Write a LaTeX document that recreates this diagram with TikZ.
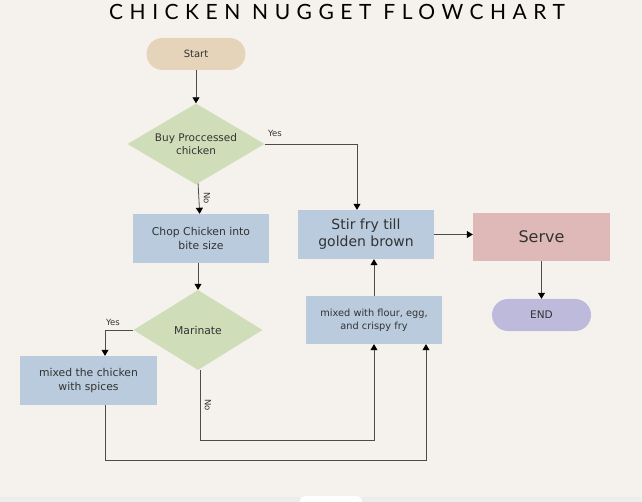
\documentclass[tikz,border=0pt]{standalone}
\usepackage{fontspec}
\setmainfont{DejaVu Sans}
\newfontfamily\titlefont[LetterSpace=31]{Lato}
\usetikzlibrary{shapes.geometric,arrows.meta}
\definecolor{bg}{HTML}{F5F2ED}
\definecolor{tan}{HTML}{E6D4BA}
\definecolor{sage}{HTML}{CFDDB9}
\definecolor{steel}{HTML}{B9CBDD}
\definecolor{rose}{HTML}{DEB9B8}
\definecolor{lilac}{HTML}{BDBADC}
\begin{document}
\begin{tikzpicture}[x=1pt,y=-1pt,
  box/.style={rectangle,fill=steel,text=black!80,align=center,inner sep=0pt},
  pill/.style={rectangle,rounded corners=16pt,text=black!80,minimum width=99pt,minimum height=32pt,inner sep=0pt},
  ask/.style={diamond,aspect=1.7,fill=sage,text=black!80,align=center,inner sep=0pt,minimum width=137pt,minimum height=81pt},
  arr/.style={draw=black!70,thick,-{Triangle[width=7pt,length=6pt,color=black]}},
  lbl/.style={font=\fontsize{8.5}{10}\selectfont,text=black!80,inner sep=0pt}]
%\draw [help lines,black!20!white] (0,0) grid[step=50] (642,502);
\useasboundingbox[fill=bg] (0,0) rectangle (642,502);
\fill[black!7] (0,497) rectangle (642,502);
\fill[white,rounded corners=5pt] (300,496) rectangle (362,508);

\node[text=black] (title) at (337,12) {\titlefont\fontsize{21}{21}\selectfont CHICKEN NUGGET FLOWCHART};

\node[pill,fill=tan,font=\fontsize{10}{11}\selectfont] (start) at (196,54) {Start};
\node[ask,font=\fontsize{10.5}{13.5}\selectfont] (buy) at (196,144) {Buy Proccessed\\chicken};
\node[box,minimum width=136pt,minimum height=49pt,font=\fontsize{10.8}{13.5}\selectfont] (chop) at (201,238.5) {Chop Chicken into\\bite size};
\node[ask,minimum width=129pt,minimum height=80pt,font=\fontsize{10.8}{13.5}\selectfont] (marinate) at (198,330) {Marinate};
\node[box,minimum width=137pt,minimum height=49pt,font=\fontsize{10.8}{13.5}\selectfont] (spices) at (88.5,380.5) {mixed the chicken\\with spices};
\node[box,minimum width=136pt,minimum height=48pt,font=\fontsize{9.8}{13}\selectfont] (flour) at (374,320) {mixed with flour, egg,\\and crispy fry};
\node[box,minimum width=136pt,minimum height=49pt,font=\fontsize{14}{17}\selectfont] (stir) at (366,234.5) {Stir fry till\\golden brown};
\node[box,fill=rose,minimum width=137pt,minimum height=48pt,font=\fontsize{16}{18}\selectfont] (serve) at (541.5,237) {Serve};
\node[pill,fill=lilac,font=\fontsize{10.5}{11}\selectfont] (endnode) at (541.5,315) {END};

\coordinate (lowA) at (374,440);
\coordinate (lowB) at (426,460);

\draw[arr] (start) -- (buy);
\draw[arr] (buy.east) -| ([xshift=-9pt]stir.north);
\draw[arr] (buy) -- (chop);
\draw[arr] (chop.south -| marinate.north) -- (marinate);
\draw[arr] (marinate.west) -| (spices.north -| 105,0);
\draw[arr] ([xshift=2pt]marinate.south) |- (lowA) -- (flour.south);
\draw[arr] (spices.south -| 105,0) |- (lowB) -- (lowB |- flour.south);
\draw[arr] (flour.north) -- (flour.north |- stir.south);
\draw[arr] (stir.east) -- (stir.east -| serve.west);
\draw[arr] (serve) -- (endnode);

\node[lbl] (yesbuy) at (275,133) {Yes};
\node[lbl,rotate=-90] (nobuy) at (207,198) {No};
\node[lbl] (yesmar) at (113,322) {Yes};
\node[lbl,rotate=-90] (nomar) at (208,405) {No};

\end{tikzpicture}
\end{document}
